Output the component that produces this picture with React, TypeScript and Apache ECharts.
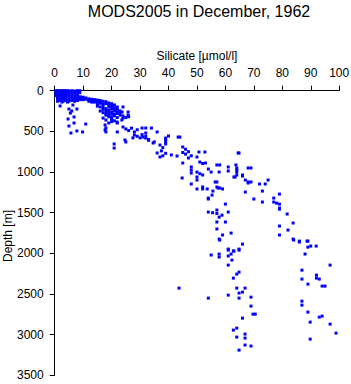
import React, { useEffect, useRef } from "react";
import * as echarts from "echarts";

const titleText = "MODS2005 in December, 1962";
const xName = "Silicate [µmol/l]";
const yName = "Depth [m]";
const xTicks = [0, 100, 10];
const yTicks = [0, 3500, 500];

// [silicate, depth]
const surfacePoints: number[][] = [
  [0.5,0],[1,0],[1.5,5],[2,0],[2.5,5],[3,0],[3.5,0],[4,5],[4.5,0],[5,5],[6,0],[7,5],[8,0],[8.8,0],
  [0.5,15],[1,20],[1.5,15],[2,25],[2.5,20],[3,15],[3.5,25],[4,20],[5,25],[6,20],[7,25],[8,20],[8.8,25],
  [0.5,35],[1,40],[1.5,45],[2,35],[2.5,40],[3,50],[3.5,40],[4,45],[5,40],[6,50],[7,45],[8,55],
  [0.5,60],[1,65],[1.5,70],[2,60],[3,70],[3.5,75],[4,65],[5,70],[6,75],[7,80],[8,85],[9,90],
  [1,85],[2,90],[3,95],[4,90],[5,100],[6,100],[7,105],[8,100],[9,110],
  [1,100],[1.5,120],[2,110],[2.5,140],[3,130],[4,120],[4.5,140],[5,130],[6,120],[7,130],[8,120],[3.5,110],[1,130]
];

const bandPoints: number[][] = [
  [9,75],[10,80],[10,95],[11,90],[11,105],[12,100],[12,115],[13,105],[13,120],[14,110],[14,125],[15,115],
  [15,130],[16,120],[16,140],[17,130],[17,150],[18,135],[18,160],[19,150],[19,175],[20,160],[20,185],[21,175],
  [10,110],[12,130],[14,140],[16,155],
  [15,190],[16,200],[17,210],[17,230],[18,220],[18,250],[19,240],[19,270],[20,260],[20,290],[17,270],[16,250],
  [18,300],[19,320],[20,330],[21,310],[21,250],[22,200],[22,230],
  [22,280],[23,300],[24,310],[21,290],[22,330],[23,250],[20,220],[21,230],[25,330],[26,320],[18,280],[19,300],
  [13,140],[15,160],[17,180],[19,200],[21,210],[23,280]
];

const leftPoints: number[][] = [
  [1.9,188],[5,225],[6,250],[5.5,275],[6.4,176],[7.8,225],[4.7,348],[6.8,323],[5,434],[6.8,397],
  [10.9,410],[5.7,520],[7.8,495],[9.8,507]
];

const midPoints: number[][] = [
  [24,200],[25.8,262],[25.8,300],[22,250],[17,336],[18,360],[19,397],[20,380],[18,459],[18,507],[20,348],
  [21,370],[22,397],[23.6,360],[22,507],[24,446],[25,470],[26,490],[27,460],[28,507],[29,480],[25,630],
  [30.7,459],[32,459],[34,459],[36,507],[28,545],[29,560],[30,580],[32,583],[33,610],[34.6,643],[20.9,655],
  [20.9,705],[24,336],[17.7,422],[17.7,483],[21.9,385],[23.7,262],[24.7,606],[27.5,580],[32,520],[32,560],
  [30.7,540],[31,570],[33,600],[35,630],[40,557],[44,570],[39,582],[39,630],[39,655],[37,668],[38,700],
  [37.5,740],[39,770],[38,800],[37,815],[41,790],[43,803],[45,692],[46,720],[47,750],[46,780],[48,800],
  [47,827],[45,760],[36,766],[43.4,570],[39,600]
];

const deepPoints: number[][] = [
  [50.7,754],[52.8,754],[50,815],[45,889],[48,938],[48,975],[48,1012],[50,1000],[51,1020],[52,1036],
  [53,889],[54,963],[55,1000],[57.8,1000],[57,913],[58,913],[61,938],[61,987],[63.7,913],[64,950],[64,1000],
  [63.4,1061],[64.5,766],[44.8,1073],[50,1061],[50,1098],[48,1147],[52,1184],[50,1208],[52,1208],[53.6,1208],
  [55.6,1234],[57,1122],[57.4,1196],[55.3,1283],[54,1320],[51,877],[52,895],[66,1036],[66,1049],[68,950],
  [63,1061],[56.4,1122],[57,1184],[58,1196],[59,1208],[54,1332],[60,1394],[67,1098],[68,1122],[67,1246],
  [64.8,766],[64,975],[64,1036],[69,950],[69,1122],[68,1135],[72,1147],[74,1147],[75,1098],[73,1234],
  [70,1332],[73,1369],[77,1320],[77,1369],[78,1382],[79,1271],[79,1394],[79,1443],[79,1456],[81.7,1516],
  [83.8,1627],[79,1664],[82,1713],[79,1774],[83.8,1824],[86,1849],[88.7,1849],[89,1923],[90,1910],[91.9,1910],
  [62,1750],[66,1886],[64.8,1947],
  [54,1492],[55.5,1500],[57,1510],[58.8,1530],[57,1467],[57.8,1554],[57,1614],[60,1614],[61,1492],[57,1700],
  [59,1774],[57.8,1824],[61,1947],[63,1971],[55,2020],[57.8,2008],[57.8,2045],[61,2032],[62,2008],[62.3,2082],
  [61,2144],[64.8,2230],[64,2255],[62.8,2304],[64,2427],[66.9,2427],[66,2476],[64.8,2488],[61,2513],[64.8,2550],
  [43.7,2427],[54,2550],
  [58,1836],[61,1960],[62.8,1971],[64.8,1960],[69,2538],[69,2648],[69.7,2747],[66,2796],[64,2919],[62.8,2943],
  [66.9,2992],[66.9,3041],[64,3029],[66.9,3127],[69,3139],[64.8,3189],
  [84,1836],[86,1860],[89,1849],[88,2008],[96.8,2144],[86.9,2206],[92,2267],[92,2304],[93,2316],[86.9,2316],
  [89,2378],[94,2402],[95,2402],[86.9,2587],[86.9,2636],[89,2722],[93,2784],[94,2771],[89.8,2845],[96.8,2870],
  [98.9,2980],[89.8,3054],[70.5,2747]
];

const allPoints = [...surfacePoints, ...bandPoints, ...leftPoints, ...midPoints, ...deepPoints];

export default function App() {
  const ref = useRef<HTMLDivElement>(null);
  useEffect(() => {
    if (!ref.current) return;
    const chart = echarts.init(ref.current, null, { renderer: "svg" });
    const font = "'Liberation Sans', Arial, Helvetica, sans-serif";
    chart.setOption({
      animation: false,
      backgroundColor: "#ffffff",
      textStyle: { fontFamily: font },
      graphic: [
        {
          type: "text",
          x: 199,
          y: 11,
          style: {
            text: titleText,
            fontSize: 16,
            fontFamily: font,
            fill: "#000",
            align: "center",
            verticalAlign: "middle",
          },
        },
        {
          type: "text",
          x: 8,
          y: 236,
          rotation: Math.PI / 2,
          style: {
            text: yName,
            fontSize: 12,
            fontFamily: font,
            fill: "#000",
            align: "center",
            verticalAlign: "middle",
          },
        },
      ],
      grid: {
        left: 54.7,
        right: 11.8,
        top: 90.7,
        bottom: 8.6,
        containLabel: false,
        outerBoundsMode: "none",
      },
      xAxis: {
        type: "value",
        position: "top",
        min: xTicks[0],
        max: xTicks[1],
        interval: xTicks[2],
        name: xName,
        nameLocation: "middle",
        nameGap: 21,
        nameTextStyle: { fontSize: 12, color: "#000", fontFamily: font },
        axisLine: { show: true, onZero: false, lineStyle: { color: "#000", width: 1 } },
        axisTick: { show: true, length: 5, lineStyle: { color: "#000" } },
        axisLabel: { fontSize: 12, color: "#000", margin: 12, fontFamily: font, formatter: (v: number) => String(v) },
        splitLine: { show: false },
      },
      yAxis: {
        type: "value",
        inverse: true,
        min: yTicks[0],
        max: yTicks[1],
        interval: yTicks[2],
        axisLine: { show: true, onZero: false, lineStyle: { color: "#000", width: 1 } },
        axisTick: { show: true, length: 5, lineStyle: { color: "#000" } },
        axisLabel: { fontSize: 12, color: "#000", margin: 11, fontFamily: font, formatter: (v: number) => String(v) },
        splitLine: { show: false },
      },
      series: [
        {
          type: "scatter",
          data: allPoints,
          symbol: "rect",
          symbolSize: 3,
          itemStyle: { color: "#0000ff", opacity: 1 },
          emphasis: { disabled: true },
        },
      ],
    });
    return () => chart.dispose();
  }, []);
  return (
    <div
      ref={ref}
      style={{ position: "fixed", left: 0, top: 0, width: 351, height: 384, background: "#fff" }}
    />
  );
}
